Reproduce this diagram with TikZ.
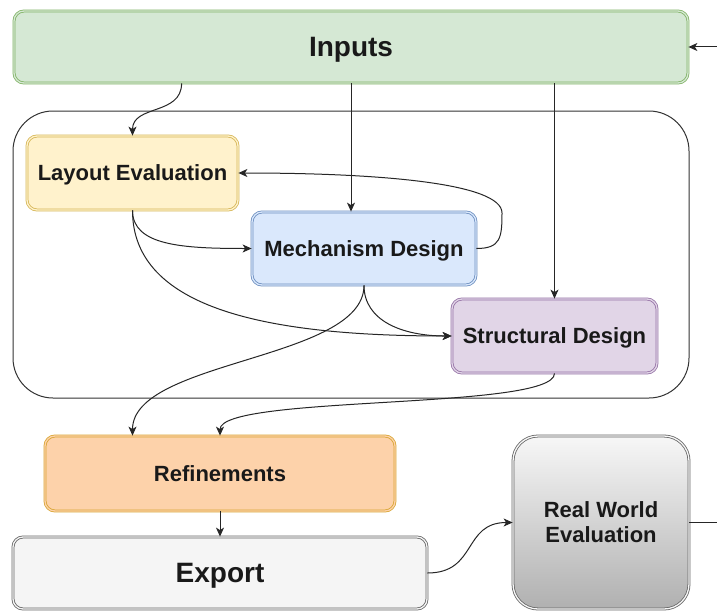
\documentclass[tikz,border=0pt]{standalone}
\usepackage{fontspec}
\setmainfont{Liberation Sans}
\usetikzlibrary{arrows.meta, positioning, calc}

\definecolor{inputsfill}{HTML}{D5E8D4}
\definecolor{inputsline}{HTML}{82B366}
\definecolor{layoutfill}{HTML}{FFF2CC}
\definecolor{layoutline}{HTML}{D6B656}
\definecolor{mechfill}{HTML}{DAE8FC}
\definecolor{mechline}{HTML}{6C8EBF}
\definecolor{structfill}{HTML}{E1D5E7}
\definecolor{structline}{HTML}{9673A6}
\definecolor{refinefill}{HTML}{FDD2AA}
\definecolor{refineline}{HTML}{D9A634}
\definecolor{exportfill}{HTML}{F5F5F5}
\definecolor{exportline}{HTML}{666666}
\definecolor{realtop}{HTML}{F7F7F7}
\definecolor{realbottom}{HTML}{B0B0B0}

\tikzset{
  box/.style={rectangle, rounded corners=10pt, inner sep=0pt, align=center,
    line width=0.8pt, double distance=1.3pt, text=black!90, text depth=0pt,
    font=\bfseries\fontsize{22}{25}\selectfont},
  bigbox/.style={box, font=\bfseries\fontsize{28}{32}\selectfont},
  flow/.style={-{Stealth[length=9pt,width=8pt,inset=2.5pt]}, line width=1pt, black!85},
}

\begin{document}
\begin{tikzpicture}[x=1pt, y=-1pt]
\path[use as bounding box, fill=white] (0,0) rectangle (717,610);

% Container for the design stages
\node[rectangle, rounded corners=40pt, draw=black!80, line width=1pt,
      minimum width=676pt, minimum height=287pt] (core) at (351,254.5) {};

% Boxes
\node[bigbox, draw=inputsline, fill=inputsfill, double=inputsfill,
      minimum width=674pt, minimum height=72pt] (inputs) at (351,47) {Inputs};
\node[box, draw=layoutline, fill=layoutfill, double=layoutfill,
      minimum width=211pt, minimum height=74pt] (layout) at (132.5,173) {Layout Evaluation};
\node[box, draw=mechline, fill=mechfill, double=mechfill,
      minimum width=224pt, minimum height=73pt] (mech) at (364,248.5) {Mechanism Design};
\node[box, draw=structline, fill=structfill, double=structfill,
      minimum width=205pt, minimum height=74pt] (struct) at (554.5,336) {Structural Design};
\node[box, draw=refineline, fill=refinefill, double=refinefill,
      minimum width=350pt, minimum height=75pt] (refine) at (220,473.5) {Refinements};
\node[bigbox, draw=exportline, fill=exportfill, double=exportfill,
      minimum width=414pt, minimum height=72pt] (export) at (220,573) {Export};
\node[box, rounded corners=25pt, draw=exportline, top color=realtop, bottom color=realbottom,
      double=realtop, minimum width=176pt, minimum height=173pt] (real) at (601,522.5) {Real World\\Evaluation};

% Free ends and bend point
\coordinate (back) at (717,47);
\coordinate (out) at (717,522.5);
\coordinate (loop) at (502,213);

% Inputs to the stages
\draw[flow] ([xshift=168pt]inputs.south west) .. controls +(0,32) and +(0,-31) .. (layout.north);
\draw[flow] (inputs.south) -- (inputs.south |- mech.north);
\draw[flow] (struct.north |- inputs.south) -- (struct.north);
\draw[flow] (back) -- (inputs.east);

% Inside the container
\draw[flow] (layout.south) .. controls +(0,35) and +(-70,0) .. (mech.west);
\draw[flow] (layout.south) .. controls +(0,100) and +(-180,0) .. (struct.west);
\draw[flow] (mech.south) .. controls +(0,35) and +(-50,0) .. (struct.west);
\draw[flow] (mech.east) .. controls +(24,0) and +(0,25) .. (loop)
  .. controls +(0,-30) and +(140,0) .. (layout.east);

% To refinements and onwards
\draw[flow] (mech.south) .. controls +(0,75) and +(0,-76) .. (refine.north -| layout.south);
\draw[flow] (struct.south) .. controls +(0,37) and +(0,-41) .. (refine.north);
\draw[flow] (refine.south) -- (export.north);
\draw[flow] (export.east) .. controls +(50,0) and +(-50,0) .. (real.west);
\draw[line width=1pt, black!85] (real.east) -- (out);
\end{tikzpicture}
\end{document}
